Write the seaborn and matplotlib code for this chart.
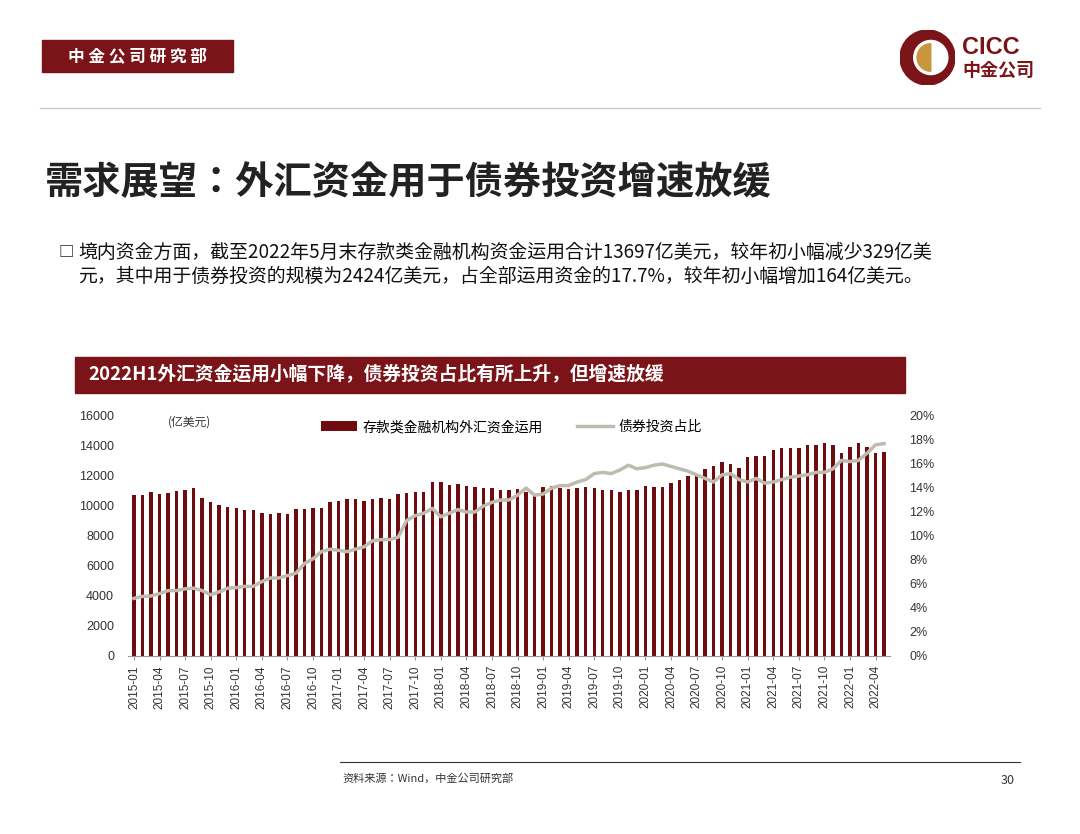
import matplotlib
matplotlib.use("Agg")
import matplotlib.pyplot as plt
from matplotlib import font_manager as fm
import seaborn as sns
import pandas as pd
import numpy as np
from matplotlib.patches import Rectangle, Circle, Wedge
from matplotlib.lines import Line2D

names = {f.name for f in fm.fontManager.ttflist}
cjk = None
for cand in ["Noto Sans CJK SC", "Noto Sans CJK JP", "Noto Sans CJK TC", "Noto Sans CJK KR", "Noto Sans SC"]:
    if cand in names:
        cjk = cand
        break
if cjk is None:
    for p in fm.findSystemFonts():
        if "NotoSansCJK" in p or "NotoSansSC" in p:
            fm.fontManager.addfont(p)
            cjk = fm.FontProperties(fname=p).get_name()
            break
plt.rcParams["font.family"] = "sans-serif"
plt.rcParams["font.sans-serif"] = [cjk or "Noto Sans CJK SC", "DejaVu Sans"]

months = pd.period_range("2015-01", periods=89, freq="M").strftime("%Y-%m").tolist()
funds_use = [10733, 10733, 10950, 10800, 10870, 11000, 11050, 11200, 10550, 10270, 10040, 9960,
             9840, 9730, 9730, 9560, 9450, 9560, 9470, 9780, 9780, 9870, 9870, 10270,
             10360, 10490, 10450, 10310, 10490, 10550, 10490, 10800, 10840, 10930, 10950, 11620,
             11580, 11400, 11470, 11360, 11270, 11180, 11180, 11070, 11070, 11110, 10960, 10800,
             11240, 11330, 11180, 11110, 11180, 11240, 11180, 11070, 11040, 10960, 11040, 11040,
             11330, 11240, 11240, 11510, 11730, 12000, 12130, 12440, 12660, 12960, 12800, 12510,
             13290, 13330, 13330, 13730, 13840, 13840, 13840, 14060, 14060, 14220, 14060, 13510,
             13950, 14220, 13910, 13550, 13620]
bond_share = [4.8, 4.97, 5.0, 5.2, 5.45, 5.45, 5.6, 5.65, 5.45, 5.1, 5.35, 5.65,
              5.7, 5.8, 5.8, 6.2, 6.5, 6.5, 6.7, 6.9, 7.7, 8.1, 8.7, 8.9,
              8.8, 8.7, 8.9, 9.1, 9.6, 9.7, 9.7, 9.9, 11.3, 11.7, 11.9, 12.3,
              11.6, 11.9, 12.2, 12.0, 12.0, 12.5, 12.8, 13.0, 13.0, 13.4, 14.0, 13.4,
              13.5, 14.0, 14.2, 14.2, 14.5, 14.7, 15.2, 15.3, 15.2, 15.5, 15.9, 15.6,
              15.7, 15.9, 16.0, 15.8, 15.6, 15.4, 15.1, 14.8, 14.5, 15.1, 15.2, 14.7,
              14.5, 14.8, 14.4, 14.5, 14.7, 14.9, 15.0, 15.1, 15.3, 15.3, 15.6, 16.3,
              16.2, 16.3, 16.9, 17.6, 17.7]
left_ticks = [0, 2000, 4000, 6000, 8000, 10000, 12000, 14000, 16000]
right_ticks = [0, 2, 4, 6, 8, 10, 12, 14, 16, 18, 20]

df = pd.DataFrame({"month": months, "funds": funds_use, "share": bond_share})
df["pos"] = np.arange(len(df))

RED = "#6f0c10"
HRED = "#7a1418"
W, H = 1080, 834
fig = plt.figure(figsize=(W / 100, H / 100), dpi=100)
fig.patch.set_facecolor("white")

def fx(x): return x / W
def fy(y): return 1 - y / H

fig.patches.append(Rectangle((fx(42), fy(72)), fx(191), 32 / H, transform=fig.transFigure, color=HRED))
fig.text(fx(137), fy(56), "中 金 公 司 研 究 部", color="white", fontsize=12, fontweight="bold", ha="center", va="center")
fig.add_artist(Line2D([fx(40), fx(1040)], [fy(108), fy(108)], color="#cccccc", lw=1))
lax = fig.add_axes([fx(900), fy(85), fx(55), 55 / H])
lax.set_xlim(-1, 1); lax.set_ylim(-1, 1); lax.set_aspect("equal"); lax.axis("off")
lax.add_patch(Circle((0, 0), 1, color=HRED))
lax.add_patch(Circle((0.12, 0.0), 0.62, color="white"))
lax.add_patch(Wedge((0.12, 0.0), 0.5, 90, 270, color="#c8963e"))
fig.text(fx(962), fy(47), "CICC", color=HRED, fontsize=17, fontweight="bold", ha="left", va="center", family="Liberation Sans")
fig.text(fx(962), fy(70), "中金公司", color=HRED, fontsize=13, fontweight="bold", ha="left", va="center")

fig.text(fx(45), fy(183), "需求展望：外汇资金用于债券投资增速放缓", fontsize=27.5, fontweight="bold", color="#222222", ha="left", va="center")
fig.text(fx(58), fy(252), "□", fontsize=11, color="#222222", ha="left", va="center", fontweight="bold")
fig.text(fx(78), fy(252), "境内资金方面，截至2022年5月末存款类金融机构资金运用合计13697亿美元，较年初小幅减少329亿美", fontsize=13.6, color="#111111", ha="left", va="center")
fig.text(fx(78), fy(276), "元，其中用于债券投资的规模为2424亿美元，占全部运用资金的17.7%，较年初小幅增加164亿美元。", fontsize=13.6, color="#111111", ha="left", va="center")

fig.patches.append(Rectangle((fx(75), fy(393)), fx(830), 36 / H, transform=fig.transFigure, color=HRED))
fig.text(fx(88), fy(375), "2022H1外汇资金运用小幅下降，债券投资占比有所上升，但增速放缓", color="white", fontsize=13.5, fontweight="bold", ha="left", va="center")

ax = fig.add_axes([fx(128), fy(656), fx(762), 240 / H])
sns.barplot(data=df, x="pos", y="funds", color=RED, width=0.4, ax=ax, saturation=1, label="存款类金融机构外汇资金运用")
ax.set_ylim(0, 16000)
ax.set_xlim(-0.7, len(df) - 0.3)
ax.set_yticks(left_ticks)
ax.set_yticklabels([str(t) for t in left_ticks], fontsize=9, color="#333333", family="Liberation Sans")
ax.set_xticks(df["pos"][::3])
ax.set_xticklabels(df["month"][::3], rotation=90, fontsize=8.5, color="#333333", family="Liberation Sans")
ax.set_xlabel(""); ax.set_ylabel("")
for s in ["top", "right", "left"]:
    ax.spines[s].set_visible(False)
ax.spines["bottom"].set_color("#999999")
ax.tick_params(axis="y", length=0, pad=10)
ax.tick_params(axis="x", length=3, color="#999999")

ax2 = ax.twinx()
sns.lineplot(data=df, x="pos", y="share", color="#bdbcae", lw=2.5, ax=ax2, label="债券投资占比")
ax2.set_ylim(0, 20)
ax2.set_yticks(right_ticks)
ax2.set_yticklabels([f"{t}%" for t in right_ticks], fontsize=9, color="#333333", family="Liberation Sans")
ax2.set_ylabel("")
for s in ["top", "right", "left", "bottom"]:
    ax2.spines[s].set_visible(False)
ax2.tick_params(axis="y", length=0, pad=14)
ax2.get_legend().remove()
h1, l1 = ax.get_legend_handles_labels()
if ax.get_legend(): ax.get_legend().remove()
h2, l2 = ax2.get_legend_handles_labels()
fig.legend(h1 + h2, l1 + l2, loc="center left", bbox_to_anchor=(fx(308), fy(427)), ncol=2, frameon=False,
           fontsize=10, handlelength=2.6, columnspacing=2.5, handletextpad=0.4)
fig.text(fx(168), fy(422), "(亿美元)", fontsize=8.5, color="#333333", ha="left", va="center")

fig.add_artist(Line2D([fx(340), fx(1020)], [fy(762), fy(762)], color="#333333", lw=0.8))
fig.text(fx(342), fy(778), "资料来源：Wind，中金公司研究部", fontsize=8, color="#333333", ha="left", va="center")
fig.text(fx(1015), fy(780), "30", fontsize=9, color="#333333", ha="right", va="center")

fig.savefig("out.png", dpi=100, facecolor="white")
